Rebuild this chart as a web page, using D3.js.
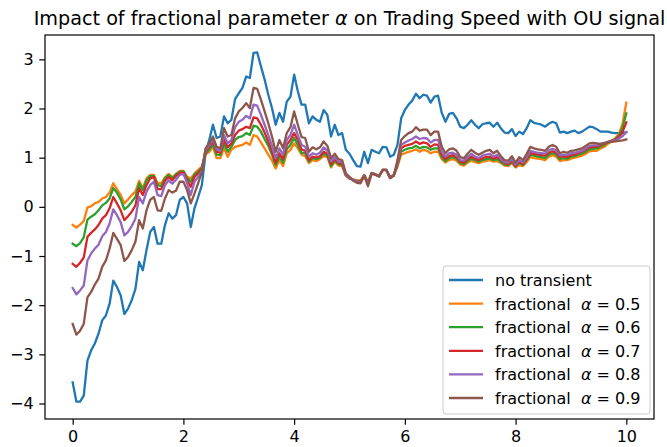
<!DOCTYPE html>
<html>
<head>
<meta charset="utf-8">
<script src="https://cdn.jsdelivr.net/npm/d3@7"></script>
<style>
  html, body { margin: 0; padding: 0; background: #fff; }
  svg { display: block; font-family: "DejaVu Sans", sans-serif; }
</style>
</head>
<body>
<svg id="chart" width="667" height="447"></svg>
<script>
// ─── DATA ─────────────────────────────────────────────────────────────────────
// 151 samples on t in [0, 10] (step 1/15).
const tEnd = 10;
const xTicks = [0, 2, 4, 6, 8, 10];
const yTicks = [-4, -3, -2, -1, 0, 1, 2, 3];

const noTransient = [
  -3.57, -3.96, -3.96, -3.84, -3.13, -2.92, -2.78, -2.58, -2.31, -2.21,
  -1.97, -1.50, -1.63, -1.80, -2.18, -2.07, -1.90, -1.67, -1.12, -1.29,
  -0.88, -0.51, -0.41, -0.75, -0.75, -0.37, -0.13, -0.24, -0.17, 0.14,
  0.20, 0.07, -0.41, -0.03, 0.20, 0.44, 1.09, 1.36, 1.67, 1.40,
  1.43, 1.84, 1.70, 1.77, 2.19, 2.31, 2.42, 2.65, 2.62, 3.13,
  3.14, 2.86, 2.59, 2.28, 2.01, 1.67, 1.91, 1.73, 2.14, 2.24,
  2.69, 2.35, 2.08, 2.08, 1.70, 1.84, 1.77, 1.73, 1.97, 1.87,
  1.43, 1.67, 1.46, 1.50, 1.16, 1.08, 0.95, 0.83, 0.82, 1.12,
  0.89, 1.16, 1.12, 1.09, 1.22, 1.21, 1.02, 1.06, 1.26, 1.80,
  1.97, 2.08, 2.16, 2.30, 2.21, 2.28, 2.26, 2.12, 2.24, 2.26,
  1.91, 1.73, 1.89, 1.91, 1.80, 1.63, 1.60, 1.67, 1.76, 1.67,
  1.60, 1.68, 1.70, 1.71, 1.63, 1.71, 1.60, 1.51, 1.50, 1.58,
  1.44, 1.53, 1.48, 1.60, 1.76, 1.71, 1.69, 1.67, 1.63, 1.69,
  1.73, 1.70, 1.51, 1.53, 1.50, 1.53, 1.55, 1.50, 1.53, 1.58,
  1.63, 1.62, 1.58, 1.53, 1.53, 1.53, 1.51, 1.50, 1.50, 1.50,
  1.52
];

const alpha05 = [
  -0.37, -0.42, -0.36, -0.29, -0.01, 0.01, 0.07, 0.10, 0.17, 0.20,
  0.29, 0.48, 0.36, 0.24, 0.07, 0.15, 0.24, 0.31, 0.53, 0.38,
  0.58, 0.65, 0.65, 0.48, 0.48, 0.60, 0.67, 0.60, 0.67, 0.73,
  0.73, 0.61, 0.58, 0.68, 0.75, 0.82, 1.06, 1.12, 1.22, 0.99,
  0.99, 1.19, 1.02, 1.16, 1.22, 1.24, 1.26, 1.31, 1.26, 1.46,
  1.43, 1.31, 1.19, 1.06, 0.94, 0.78, 0.95, 0.83, 1.09, 1.16,
  1.29, 1.19, 1.06, 1.03, 0.89, 0.95, 0.93, 0.97, 1.03, 1.01,
  0.80, 0.92, 0.84, 0.83, 0.63, 0.58, 0.56, 0.54, 0.54, 0.65,
  0.51, 0.69, 0.67, 0.63, 0.75, 0.75, 0.61, 0.65, 0.82, 1.06,
  1.09, 1.12, 1.14, 1.17, 1.12, 1.16, 1.14, 1.09, 1.12, 1.12,
  0.97, 0.90, 0.95, 0.97, 0.94, 0.86, 0.84, 0.90, 0.94, 0.91,
  0.89, 0.92, 0.93, 0.95, 0.92, 0.93, 0.89, 0.84, 0.83, 0.89,
  0.80, 0.85, 0.83, 0.91, 1.01, 0.99, 0.98, 0.97, 0.95, 1.02,
  1.05, 1.02, 0.93, 0.95, 0.95, 0.98, 1.00, 1.02, 1.04, 1.08,
  1.13, 1.14, 1.14, 1.19, 1.22, 1.28, 1.33, 1.40, 1.48, 1.70,
  2.12
];

const alpha06 = [
  -0.75, -0.80, -0.74, -0.62, -0.26, -0.20, -0.15, -0.07, 0.03, 0.08,
  0.17, 0.38, 0.29, 0.15, -0.05, 0.01, 0.10, 0.20, 0.48, 0.34,
  0.54, 0.63, 0.63, 0.44, 0.42, 0.58, 0.65, 0.58, 0.66, 0.71,
  0.72, 0.59, 0.51, 0.66, 0.72, 0.80, 1.08, 1.16, 1.27, 1.06,
  1.05, 1.28, 1.12, 1.22, 1.36, 1.42, 1.44, 1.50, 1.46, 1.65,
  1.63, 1.53, 1.38, 1.24, 1.06, 0.85, 1.02, 0.90, 1.17, 1.26,
  1.40, 1.26, 1.10, 1.09, 0.92, 0.99, 0.97, 1.00, 1.08, 1.04,
  0.83, 0.94, 0.87, 0.85, 0.64, 0.58, 0.55, 0.53, 0.52, 0.64,
  0.49, 0.68, 0.66, 0.62, 0.75, 0.75, 0.60, 0.64, 0.84, 1.12,
  1.16, 1.19, 1.20, 1.24, 1.19, 1.22, 1.21, 1.16, 1.19, 1.19,
  1.01, 0.93, 0.99, 1.01, 0.98, 0.89, 0.87, 0.93, 0.98, 0.95,
  0.92, 0.95, 0.97, 0.98, 0.95, 0.97, 0.91, 0.86, 0.85, 0.91,
  0.82, 0.89, 0.85, 0.95, 1.05, 1.04, 1.02, 1.01, 0.99, 1.06,
  1.09, 1.06, 0.97, 0.99, 0.98, 1.02, 1.03, 1.06, 1.08, 1.12,
  1.17, 1.18, 1.19, 1.22, 1.26, 1.31, 1.35, 1.38, 1.45, 1.62,
  1.90
];

const alpha07 = [
  -1.16, -1.22, -1.14, -1.03, -0.61, -0.53, -0.46, -0.37, -0.24, -0.17,
  -0.03, 0.20, 0.07, -0.07, -0.27, -0.19, -0.10, 0.03, 0.38, 0.24,
  0.44, 0.58, 0.61, 0.36, 0.36, 0.53, 0.61, 0.54, 0.63, 0.69,
  0.70, 0.55, 0.41, 0.61, 0.68, 0.78, 1.12, 1.22, 1.33, 1.12,
  1.10, 1.36, 1.21, 1.29, 1.46, 1.55, 1.58, 1.63, 1.60, 1.82,
  1.80, 1.67, 1.51, 1.33, 1.12, 0.90, 1.09, 0.97, 1.26, 1.36,
  1.50, 1.36, 1.17, 1.14, 0.95, 1.02, 1.00, 1.03, 1.12, 1.08,
  0.87, 0.97, 0.89, 0.87, 0.65, 0.58, 0.55, 0.52, 0.51, 0.64,
  0.47, 0.68, 0.66, 0.62, 0.75, 0.75, 0.59, 0.64, 0.86, 1.19,
  1.24, 1.26, 1.28, 1.33, 1.28, 1.31, 1.29, 1.22, 1.27, 1.26,
  1.06, 0.97, 1.03, 1.05, 1.01, 0.92, 0.90, 0.97, 1.02, 0.98,
  0.95, 0.99, 1.01, 1.02, 0.98, 1.01, 0.95, 0.89, 0.87, 0.94,
  0.83, 0.92, 0.87, 0.97, 1.09, 1.08, 1.06, 1.05, 1.04, 1.10,
  1.13, 1.10, 1.01, 1.03, 1.01, 1.05, 1.06, 1.09, 1.12, 1.16,
  1.21, 1.22, 1.22, 1.26, 1.28, 1.32, 1.34, 1.36, 1.42, 1.53,
  1.72
];

const alpha08 = [
  -1.65, -1.78, -1.70, -1.60, -1.09, -0.95, -0.85, -0.77, -0.60, -0.51,
  -0.34, -0.05, -0.17, -0.31, -0.58, -0.51, -0.39, -0.24, 0.20, 0.07,
  0.31, 0.44, 0.51, 0.24, 0.22, 0.44, 0.54, 0.47, 0.55, 0.65,
  0.67, 0.48, 0.24, 0.51, 0.61, 0.74, 1.15, 1.25, 1.38, 1.17,
  1.14, 1.46, 1.29, 1.36, 1.62, 1.73, 1.77, 1.85, 1.80, 2.08,
  2.06, 1.87, 1.67, 1.46, 1.24, 0.99, 1.19, 1.06, 1.36, 1.46,
  1.67, 1.46, 1.26, 1.22, 1.02, 1.09, 1.06, 1.10, 1.21, 1.14,
  0.92, 1.01, 0.92, 0.91, 0.66, 0.59, 0.55, 0.51, 0.50, 0.64,
  0.45, 0.68, 0.66, 0.62, 0.75, 0.75, 0.59, 0.64, 0.90, 1.26,
  1.31, 1.35, 1.38, 1.43, 1.38, 1.40, 1.39, 1.31, 1.36, 1.36,
  1.12, 1.02, 1.09, 1.10, 1.06, 0.95, 0.94, 1.01, 1.08, 1.02,
  0.99, 1.04, 1.06, 1.08, 1.02, 1.06, 0.98, 0.91, 0.90, 0.97,
  0.86, 0.95, 0.90, 1.01, 1.14, 1.12, 1.10, 1.09, 1.08, 1.15,
  1.18, 1.15, 1.04, 1.06, 1.05, 1.09, 1.10, 1.12, 1.14, 1.19,
  1.24, 1.25, 1.25, 1.28, 1.30, 1.32, 1.33, 1.35, 1.39, 1.44,
  1.52
];

const alpha09 = [
  -2.38, -2.60, -2.52, -2.38, -1.84, -1.73, -1.58, -1.46, -1.22, -1.09,
  -0.85, -0.53, -0.65, -0.78, -1.10, -1.02, -0.88, -0.71, -0.27, -0.44,
  -0.07, 0.14, 0.20, -0.07, -0.08, 0.17, 0.34, 0.29, 0.33, 0.51,
  0.51, 0.34, 0.07, 0.27, 0.48, 0.71, 1.19, 1.29, 1.43, 1.22,
  1.19, 1.60, 1.43, 1.46, 1.80, 1.94, 2.01, 2.11, 2.01, 2.42,
  2.40, 2.18, 1.94, 1.70, 1.43, 1.12, 1.36, 1.19, 1.50, 1.62,
  1.94, 1.67, 1.42, 1.40, 1.12, 1.21, 1.17, 1.21, 1.33, 1.24,
  0.99, 1.08, 0.97, 0.95, 0.68, 0.61, 0.53, 0.49, 0.48, 0.63,
  0.42, 0.68, 0.65, 0.62, 0.75, 0.74, 0.58, 0.63, 0.95, 1.36,
  1.44, 1.50, 1.53, 1.62, 1.55, 1.57, 1.57, 1.46, 1.53, 1.53,
  1.22, 1.09, 1.17, 1.19, 1.14, 1.01, 0.99, 1.08, 1.16, 1.10,
  1.06, 1.10, 1.14, 1.16, 1.09, 1.14, 1.03, 0.95, 0.94, 1.03,
  0.90, 1.01, 0.95, 1.08, 1.22, 1.19, 1.17, 1.16, 1.14, 1.22,
  1.26, 1.22, 1.09, 1.12, 1.10, 1.14, 1.15, 1.17, 1.19, 1.24,
  1.29, 1.30, 1.29, 1.28, 1.29, 1.31, 1.32, 1.33, 1.34, 1.35,
  1.37
];

const labels = ['no transient', 'fractional', 'fractional', 'fractional', 'fractional', 'fractional'];
const alphas = [null, '0.5', '0.6', '0.7', '0.8', '0.9'];
const colors = ['#1f77b4', '#ff7f0e', '#2ca02c', '#d62728', '#9467bd', '#8c564b'];
const seriesList = [noTransient, alpha05, alpha06, alpha07, alpha08, alpha09];
// ──────────────────────────────────────────────────────────────────────────────

const plot = { left: 45, right: 654, top: 35, bottom: 419 };
const fs = 16;          // 10pt text at the figure's dpi
const tick = 5.7;       // 3.5pt tick length / padding

const svg = d3.select('#chart');

const nPts = noTransient.length;
const tStep = tEnd / (nPts - 1);

// matplotlib-style 5% margins
const all = seriesList.flat();
const [yMin, yMax] = d3.extent(all);
const yPad = (yMax - yMin) * 0.05;

const x = d3.scaleLinear().domain([-0.05 * tEnd, tEnd * 1.05]).range([plot.left, plot.right]);
const y = d3.scaleLinear().domain([yMin - yPad, yMax + yPad]).range([plot.bottom, plot.top]);

const line = d3.line()
  .x((d, i) => x(i * tStep))
  .y((d) => y(d));

// lines (clipped to axes)
svg.append('clipPath').attr('id', 'clip')
  .append('rect')
  .attr('x', plot.left).attr('y', plot.top)
  .attr('width', plot.right - plot.left).attr('height', plot.bottom - plot.top);

const lines = svg.append('g').attr('clip-path', 'url(#clip)');
seriesList.forEach((s, k) => {
  lines.append('path')
    .datum(s)
    .attr('d', line)
    .attr('fill', 'none')
    .attr('stroke', colors[k])
    .attr('stroke-width', 2.3)
    .attr('stroke-linejoin', 'round')
    .attr('stroke-linecap', 'square');
});

// axes
const fmt = (d) => String(d).replace('-', '\u2212');

const xAxis = svg.append('g')
  .attr('transform', `translate(0,${plot.bottom})`)
  .call(d3.axisBottom(x).tickValues(xTicks).tickFormat(fmt).tickSizeOuter(0).tickSize(tick).tickPadding(tick));

const yAxis = svg.append('g')
  .attr('transform', `translate(${plot.left},0)`)
  .call(d3.axisLeft(y).tickValues(yTicks).tickFormat(fmt).tickSizeOuter(0).tickSize(tick).tickPadding(tick));

[xAxis, yAxis].forEach((g) => {
  g.select('.domain').remove();
  g.selectAll('.tick line').attr('stroke', '#000').attr('stroke-width', 1.2);
  g.selectAll('.tick text')
    .attr('fill', '#000')
    .style('font-family', '"DejaVu Sans", sans-serif')
    .style('font-size', fs + 'px');
});

// spines
svg.append('rect')
  .attr('x', plot.left).attr('y', plot.top)
  .attr('width', plot.right - plot.left).attr('height', plot.bottom - plot.top)
  .attr('fill', 'none').attr('stroke', '#000').attr('stroke-width', 1.2);

// title
const title = svg.append('text')
  .attr('x', (plot.left + plot.right) / 2)
  .attr('y', 25)
  .attr('text-anchor', 'middle')
  .style('font-size', '19.2px')
  .attr('fill', '#000');
title.append('tspan').text('Impact of fractional parameter ');
title.append('tspan').style('font-style', 'italic').text('\u03b1');
title.append('tspan').text(' on Trading Speed with OU signal');

// legend
const lg = { x: 443, y: 266, w: 207, h: 148, row: 23.6 };
const legend = svg.append('g');
legend.append('rect')
  .attr('x', lg.x).attr('y', lg.y)
  .attr('width', lg.w).attr('height', lg.h)
  .attr('rx', 3)
  .attr('fill', '#fff').attr('fill-opacity', 0.8)
  .attr('stroke', '#ccc').attr('stroke-width', 1);

labels.forEach((lab, k) => {
  const cy = 280 + k * lg.row;
  legend.append('line')
    .attr('x1', lg.x + 6).attr('x2', lg.x + 40)
    .attr('y1', cy).attr('y2', cy)
    .attr('stroke', colors[k]).attr('stroke-width', 2.3);
  const t = legend.append('text')
    .attr('x', lg.x + 52)
    .attr('y', cy + 6)
    .style('font-size', fs + 'px')
    .style('white-space', 'pre')
    .attr('fill', '#000');
  if (alphas[k] === null) {
    t.text(lab);
  } else {
    t.append('tspan').text(lab + '  ');
    t.append('tspan').style('font-style', 'italic').text('\u03b1');
    t.append('tspan').text(' = ' + alphas[k]);
  }
});
</script>
</body>
</html>
